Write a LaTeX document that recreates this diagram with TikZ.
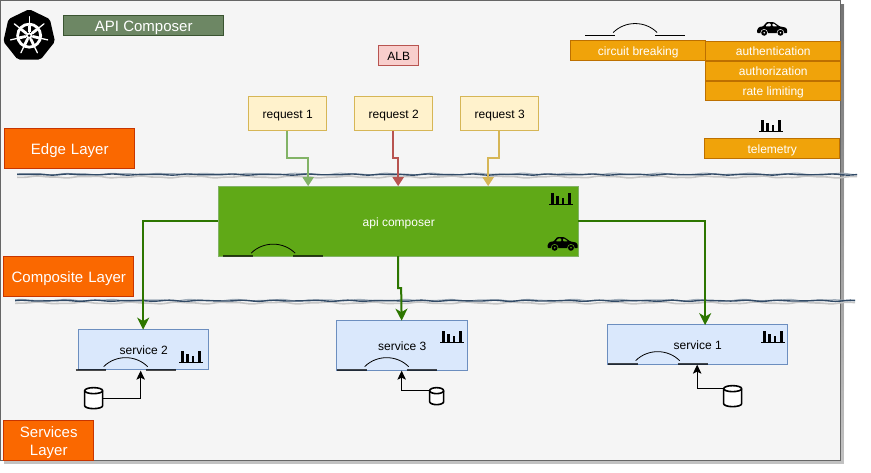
\documentclass[tikz,border=0pt]{standalone}
\usepackage{fontspec}
\setmainfont{Liberation Sans}
\usetikzlibrary{arrows.meta,shapes.geometric}
\definecolor{canvas}{HTML}{F5F5F5}
\definecolor{canvasedge}{HTML}{666666}
\definecolor{shade}{HTML}{C6CBD8}
\definecolor{wave}{HTML}{314A66}
\definecolor{sageF}{HTML}{6D8764}\definecolor{sageD}{HTML}{3A5431}
\definecolor{orF}{HTML}{FA6800}\definecolor{orD}{HTML}{C73500}
\definecolor{pinkF}{HTML}{F8CECC}\definecolor{pinkD}{HTML}{B85450}
\definecolor{yelF}{HTML}{FFF2CC}\definecolor{yelD}{HTML}{D6B656}
\definecolor{ambF}{HTML}{F0A30A}\definecolor{ambD}{HTML}{BD7000}
\definecolor{grnF}{HTML}{60A917}\definecolor{grnD}{HTML}{2D7600}
\definecolor{ltgrn}{HTML}{82B366}
\definecolor{bluF}{HTML}{DAE8FC}\definecolor{bluD}{HTML}{6C8EBF}
\tikzset{
  pxtw/.style={font=\fontsize{12}{12}\selectfont,text height=10pt,text depth=0pt,execute at begin node=\hspace*{1.2pt}},
  pxfv/.style={font=\fontsize{15}{15}\selectfont,text height=12.6pt,text depth=0pt,execute at begin node=\hspace*{1.2pt}},
  boxbase/.style={draw,line width=1pt,inner sep=0pt,outer sep=0pt,align=center},
  layerbox/.style={boxbase,fill=orF,draw=orD,text=white,pxfv,text width=88pt},
  reqbox/.style={boxbase,fill=yelF,draw=yelD,minimum width=78pt,minimum height=34pt,pxtw},
  featbox/.style={boxbase,fill=ambF,draw=ambD,text=white,minimum width=135pt,minimum height=19.5pt,pxtw},
  svcbox/.style={boxbase,fill=bluF,draw=bluD,pxtw},
  dbnode/.style={inner sep=0pt,outer sep=0pt},
  conn/.style={line width=2pt,-{Stealth[length=12pt,width=12pt,inset=3.5pt]}},
  reqconn/.style={line width=2pt,-{Triangle[length=9pt,width=11pt]}},
  dbconn/.style={line width=1pt,draw=black,-{Stealth[length=9pt,width=8.5pt,inset=2pt]}},
  pics/bars/.style={code={
    \fill[black] (-12,-0.6) rectangle (12,0.6);
    \fill[black] (-10.4,0) rectangle (-7.6,-11.5);
    \fill[black] (-5,0) rectangle (-2.3,-8.5);
    \fill[black] (0.7,0) rectangle (3,-6);
    \fill[black] (7.3,0) rectangle (10,-11.5);
  }},
  pics/breaker/.style 2 args={code={
    \draw[line width=#2pt,draw=black,opacity=#1] (-50,0) -- (-20,0) (20,0) -- (50,0);
    \draw[line width=.8pt,draw=black] (-22,-3) .. controls (-10,-15) and (10,-15) .. (22,-3);
  }},
  pics/car/.style={code={
    \fill[black,even odd rule,rounded corners=.8pt] (9.5,0) -- (16.5,0) -- (22.5,4.2) -- (28.5,5.4) -- (30,7.5) -- (30,11) -- (0,11) -- (0,7.5) -- (2,4.8) -- (6,4.2) -- cycle
      (10.2,1.3) -- (13.8,1.3) -- (13.8,4.2) -- (8,4.2) -- cycle
      (15.2,1.3) -- (16.6,1.3) -- (20.4,4.2) -- (15.2,4.2) -- cycle;
    \fill[#1] (7,10.6) circle (3.7) (23.3,10.6) circle (3.7);
    \fill[black] (7,10.6) circle (3) (23.3,10.6) circle (3);
    \fill[#1] (7,10.6) circle (.9) (23.3,10.6) circle (.9);
  }},
  pics/cyl/.style 2 args={code={
    \filldraw[fill=white,draw=black,line width=1.6pt,line join=round]
      (-#1/2,-#2/2+3) arc[x radius=#1/2,y radius=3,start angle=180,end angle=360]
      -- (#1/2,#2/2-3) arc[x radius=#1/2,y radius=3,start angle=0,end angle=180]
      -- cycle;
    \draw[black,line width=1.6pt] (-#1/2,-#2/2+3) arc[x radius=#1/2,y radius=3,start angle=180,end angle=0];
  }},
}
\begin{document}
\begin{tikzpicture}[x=1pt,y=-1pt]
\useasboundingbox (0,0) rectangle (871,472);
\begin{scope}[shift={(0.15,0.15)}]
% canvas
\fill[shade,opacity=.6] (4,4) rectangle (844,464);
\filldraw[fill=canvas,draw=canvasedge,line width=1pt] (0.5,0.5) rectangle (840.5,460.5);
% separators
\draw[gray!45,line width=1.6pt] plot[domain=17:857,samples=170,smooth] (\x,{176.8+0.7*sin(\x*7)+0.3*sin(\x*17.3)});
\draw[wave!45,line width=1pt] plot[domain=17:857,samples=170,smooth] (\x,{173.8+0.6*sin(\x*8+40)+0.3*sin(\x*15.7)});
\draw[wave,line width=1.4pt] plot[domain=17:857,samples=170,smooth] (\x,{174.4+0.4*sin(\x*9)+0.2*sin(\x*15)});
\draw[gray!45,line width=1.6pt] plot[domain=15:855,samples=170,smooth] (\x,{302.8+0.7*sin(\x*7.5)+0.3*sin(\x*16.1)});
\draw[wave!45,line width=1pt] plot[domain=15:855,samples=170,smooth] (\x,{300+0.6*sin(\x*8.5+70)+0.3*sin(\x*14.9)});
\draw[wave,line width=1.4pt] plot[domain=15:855,samples=170,smooth] (\x,{300.6+0.4*sin(\x*10+30)+0.2*sin(\x*14.3)});
% logo
\node[shape=regular polygon,regular polygon sides=7,fill=black,minimum size=53pt,inner sep=0pt,rounded corners=2pt] (logo) at (29,35.5) {};
\begin{scope}[shift={(29,35.5)},white]
  \draw[line width=2.8pt] (0,0) circle (11.5);
  \foreach \a in {-90,-38.57,12.86,64.29,115.71,167.14,218.57}{
    \draw[line width=1.3pt,line cap=round] (\a:2) -- (\a:19);
    \draw[line width=2.8pt] (\a:3.5) -- (\a:10);
  }
  \fill[white] (0,0) circle (3.2);
  \fill[black] (0,0) circle (1.4);
\end{scope}
% titles
\node[boxbase,fill=sageF,draw=sageD,text=white,pxfv,minimum width=160pt,minimum height=20pt] (title) at (143,25.5) {API Composer};
\node[boxbase,fill=pinkF,draw=pinkD,minimum width=40pt,minimum height=20pt,pxtw] (alb) at (398,55.5) {ALB};
% layers
\node[layerbox,minimum width=130pt,minimum height=40pt] (edge) at (69,148.5) {Edge Layer};
\node[layerbox,minimum width=130pt,minimum height=40pt,text width=125pt] (composite) at (68,276.5) {Composite Layer};
\node[layerbox,minimum width=90pt,minimum height=40pt,font=\fontsize{15}{18}\selectfont,text height=15pt,text depth=] (services) at (48,440.5) {Services\\\hspace*{1.2pt}Layer};
% requests
\node[reqbox] (r1) at (287,113.5) {request 1};
\node[reqbox] (r2) at (393,113.5) {request 2};
\node[reqbox] (r3) at (499,113.5) {request 3};
% features
\node[featbox] (cb) at (637.5,50.5) {circuit breaking};
\node[featbox] (authn) at (772.5,50.7) {authentication};
\node[featbox] (authz) at (772.5,70.7) {authorization};
\node[featbox] (rate) at (772.5,90.7) {rate limiting};
\node[featbox] (tele) at (771.5,148.5) {telemetry};
\pic at (635,35.4) {breaker={1}{1}};
\pic at (757,22) {car=canvas};
\pic at (771,131) {bars};
% composer
\node[boxbase,fill=grnF,draw=ltgrn,text=white,minimum width=360pt,minimum height=70pt,pxtw] (api) at (398,221) {api composer};
\pic at (273,256) {breaker={.65}{1.4}};
\pic at (561,204) {bars};
\pic at (547.5,237) {car=grnF};
% services
\node[svcbox,minimum width=130pt,minimum height=40pt] (s2) at (143,349.5) {service 2};
\node[svcbox,minimum width=131pt,minimum height=50pt] (s3) at (401.5,345.5) {service 3};
\node[svcbox,minimum width=180pt,minimum height=40pt] (s1) at (697,344.5) {service 1};
\pic at (125.5,369.5) {breaker={.7}{1.7}};
\pic at (386.5,369.5) {breaker={.7}{1.7}};
\pic at (657.5,363.5) {breaker={.7}{1.7}};
\pic at (191,362) {bars};
\pic at (452,342) {bars};
\pic at (773,342) {bars};
% stores
\node[dbnode,minimum width=18pt,minimum height=21pt] (d2) at (93.5,398) {};
\node[dbnode,minimum width=14pt,minimum height=17pt] (d3) at (436.5,396) {};
\node[dbnode,minimum width=18pt,minimum height=21pt] (d1) at (732.5,396) {};
\pic at (d2.center) {cyl={18}{21}};
\pic at (d3.center) {cyl={14}{17}};
\pic at (d1.center) {cyl={18}{21}};
% anchor points on the composer and services
\coordinate (a1) at (308,186);
\coordinate (a2) at (398,186);
\coordinate (a3) at (488,186);
\coordinate (m1) at (287,157.5);
\coordinate (m2) at (393,157.5);
\coordinate (m3) at (499,157.5);
\coordinate (ab) at (398,288);
\coordinate (s2in) at (140.5,370.5);
\coordinate (s3in) at (401.5,370.5);
\coordinate (s1in) at (697,364.5);
\coordinate (t3) at (429,390);
\coordinate (t1) at (723,388);
\coordinate (s1top) at (705,325);
% connectors
\draw[reqconn,draw=ltgrn] (r1.south) -- (m1) -| (a1);
\draw[reqconn,draw=pinkD] (r2.south) -- (m2) -| (a2);
\draw[reqconn,draw=yelD] (r3.south) -- (m3) -| (a3);
\draw[conn,draw=grnD] (api.west) -| (s2.north);
\draw[conn,draw=grnD] (api.east) -| (s1top);
\draw[conn,draw=grnD] (api.south) -- (ab) -- ++(3,0) -- (s3.north);
\draw[dbconn] (d2.east) -| (s2in);
\draw[dbconn] (t3) -| (s3in);
\draw[dbconn] (t1) -| (s1in);
\end{scope}
\end{tikzpicture}
\end{document}
